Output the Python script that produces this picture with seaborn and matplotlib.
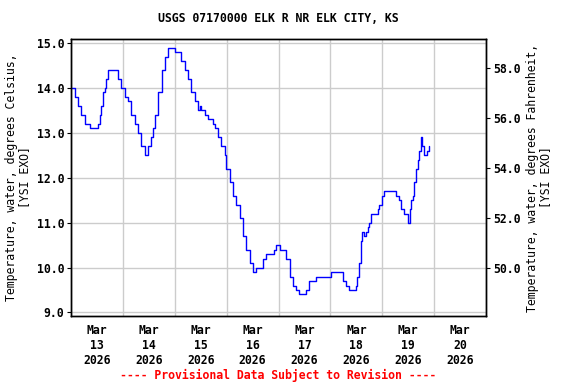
# IMPORT LIBRARIES
import pandas as pd
import seaborn as sns
import matplotlib.pyplot as plt
import matplotlib.dates as mdates

# DATA
start = pd.Timestamp('2026-03-13 00:00')
hours = [0, 0.5, 1.7, 3.2, 4.75, 6.3, 8.6, 10.9, 12.5, 13.25, 13.85, 14.8, 15.5, 16.2,
         17.1, 20.4, 21.7, 23.2, 24.8, 26.3, 27.8, 29.4, 30.9, 32.4, 34.0, 34.6, 35.7,
         37.2, 37.8, 38.8, 40.3, 41.9, 43.4, 44.9, 46.75, 48.0, 49.5, 51.1, 52.6, 54.1,
         55.7, 57.2, 58.75, 59.5, 60.3, 61.8, 63.4, 64.9, 65.5, 66.5, 68.0, 69.55, 71.1,
         71.9, 73.4, 74.9, 76.5, 78.0, 79.5, 81.1, 82.6, 84.1, 84.9, 85.7, 87.2, 88.75,
         90.3, 92.6, 93.7, 94.9, 96.5, 98.0, 99.6, 101.1, 102.6, 104.2, 105.7, 107.2,
         108.8, 110.3, 111.8, 113.4, 120.0, 120.3, 124.2, 125.7, 127.2, 128.8, 130.3,
         131.9, 132.5, 133.4, 134.2, 134.6, 135.7, 136.5, 137.2, 138.0, 138.8, 141.1,
         141.8, 142.6, 144.1, 144.9, 149.5, 150.3, 151.8, 152.6, 154.2, 155.7, 156.2,
         156.8, 157.3, 158.0, 158.8, 159.6, 160.3, 161.1, 161.9, 162.6, 163.4, 164.9,
         165.7]
temp_c = [14.0, 14.0, 13.8, 13.6, 13.4, 13.2, 13.1, 13.1, 13.2, 13.4, 13.6, 13.9, 14.0, 14.2,
          14.4, 14.4, 14.2, 14.0, 13.8, 13.7, 13.4, 13.2, 13.0, 12.7, 12.5, 12.5, 12.7,
          12.9, 13.1, 13.4, 13.9, 14.4, 14.7, 14.9, 14.9, 14.8, 14.8, 14.6, 14.4, 14.2,
          13.9, 13.7, 13.5, 13.6, 13.5, 13.4, 13.3, 13.3, 13.2, 13.1, 12.9, 12.7, 12.5,
          12.2, 11.9, 11.6, 11.4, 11.1, 10.7, 10.4, 10.1, 9.9, 9.9, 10.0, 10.0, 10.2,
          10.3, 10.3, 10.4, 10.5, 10.4, 10.4, 10.2, 9.8, 9.6, 9.5, 9.4, 9.4,
          9.5, 9.7, 9.7, 9.8, 9.8, 9.9, 9.9, 9.7, 9.6, 9.5, 9.5,
          9.6, 9.8, 10.1, 10.6, 10.8, 10.7, 10.8, 10.9, 11.0, 11.2, 11.2,
          11.3, 11.4, 11.6, 11.7, 11.7, 11.6, 11.5, 11.3, 11.2, 11.0, 11.0,
          11.3, 11.5, 11.6, 11.9, 12.2, 12.4, 12.6, 12.9, 12.7, 12.5, 12.6,
          12.7]
y_ticks_c = [9.0, 10.0, 11.0, 12.0, 13.0, 14.0, 15.0]
y_ticks_f = [50.0, 52.0, 54.0, 56.0, 58.0]
day_labels = ['Mar\n13\n2026', 'Mar\n14\n2026', 'Mar\n15\n2026', 'Mar\n16\n2026',
              'Mar\n17\n2026', 'Mar\n18\n2026', 'Mar\n19\n2026', 'Mar\n20\n2026']

df = pd.DataFrame({'time': start + pd.to_timedelta(hours, unit='h'), 'temp': temp_c})

# STYLE
sns.set_style('white', {'text.color': 'black', 'axes.labelcolor': 'black',
                        'xtick.color': 'black', 'ytick.color': 'black'})
plt.rcParams['font.family'] = ['DejaVu Sans Mono']
plt.rcParams['font.weight'] = 'bold'
plt.rcParams['font.size'] = 8.3

fig = plt.figure(figsize=(5.76, 3.84), dpi=100)
ax = fig.add_axes([0.1233, 0.177, 0.7205, 0.7214])

# LINE
sns.lineplot(data=df, x='time', y='temp', ax=ax, color='#0000ff', linewidth=1,
             drawstyle='steps-post', estimator=None)

# AXES
y_lo, y_hi = 8.92, 15.09
ax.set_ylim(y_lo, y_hi)
ax.set_xlim(start, start + pd.Timedelta(days=8))
ax.set_yticks(y_ticks_c)
ax.set_yticklabels([f'{v:.1f}' for v in y_ticks_c])
ax.xaxis.set_major_locator(mdates.DayLocator())
ax.xaxis.set_major_formatter(plt.NullFormatter())
noon = [start + pd.Timedelta(hours=12 + 24 * i) for i in range(len(day_labels))]
ax.set_xticks(noon, minor=True)
ax.set_xticklabels(day_labels, minor=True)
ax.tick_params(axis='x', which='both', length=0, pad=6)
ax.tick_params(axis='y', length=3, direction='out', left=True, pad=2)
ax.grid(True, which='major', color='#cccccc', linewidth=1)
ax.set_axisbelow(True)
for s in ax.spines.values():
    s.set_color('black')
    s.set_linewidth(1)
ax.set_xlabel('')
ax.set_ylabel('Temperature, water, degrees Celsius,\n[YSI EXO]', linespacing=1.0)

# FAHRENHEIT AXIS
ax2 = ax.twinx()
ax2.set_ylim(y_lo * 1.8 + 32, y_hi * 1.8 + 32)
ax2.set_yticks(y_ticks_f)
ax2.set_yticklabels([f'{v:.1f}' for v in y_ticks_f])
ax2.tick_params(axis='y', length=3, direction='out', right=True, pad=2)
ax2.set_ylabel('Temperature, water, degrees Fahrenheit,\n[YSI EXO]', linespacing=1.0)
for s in ax2.spines.values():
    s.set_color('black')
    s.set_linewidth(1)

# TEXT
fig.text(0.4835, 0.951, 'USGS 07170000 ELK R NR ELK CITY, KS', ha='center', va='center')
fig.text(0.4835, 0.023, '---- Provisional Data Subject to Revision ----', ha='center',
         va='center', color='red')

plt.savefig('out.png', dpi=100)
plt.close()
